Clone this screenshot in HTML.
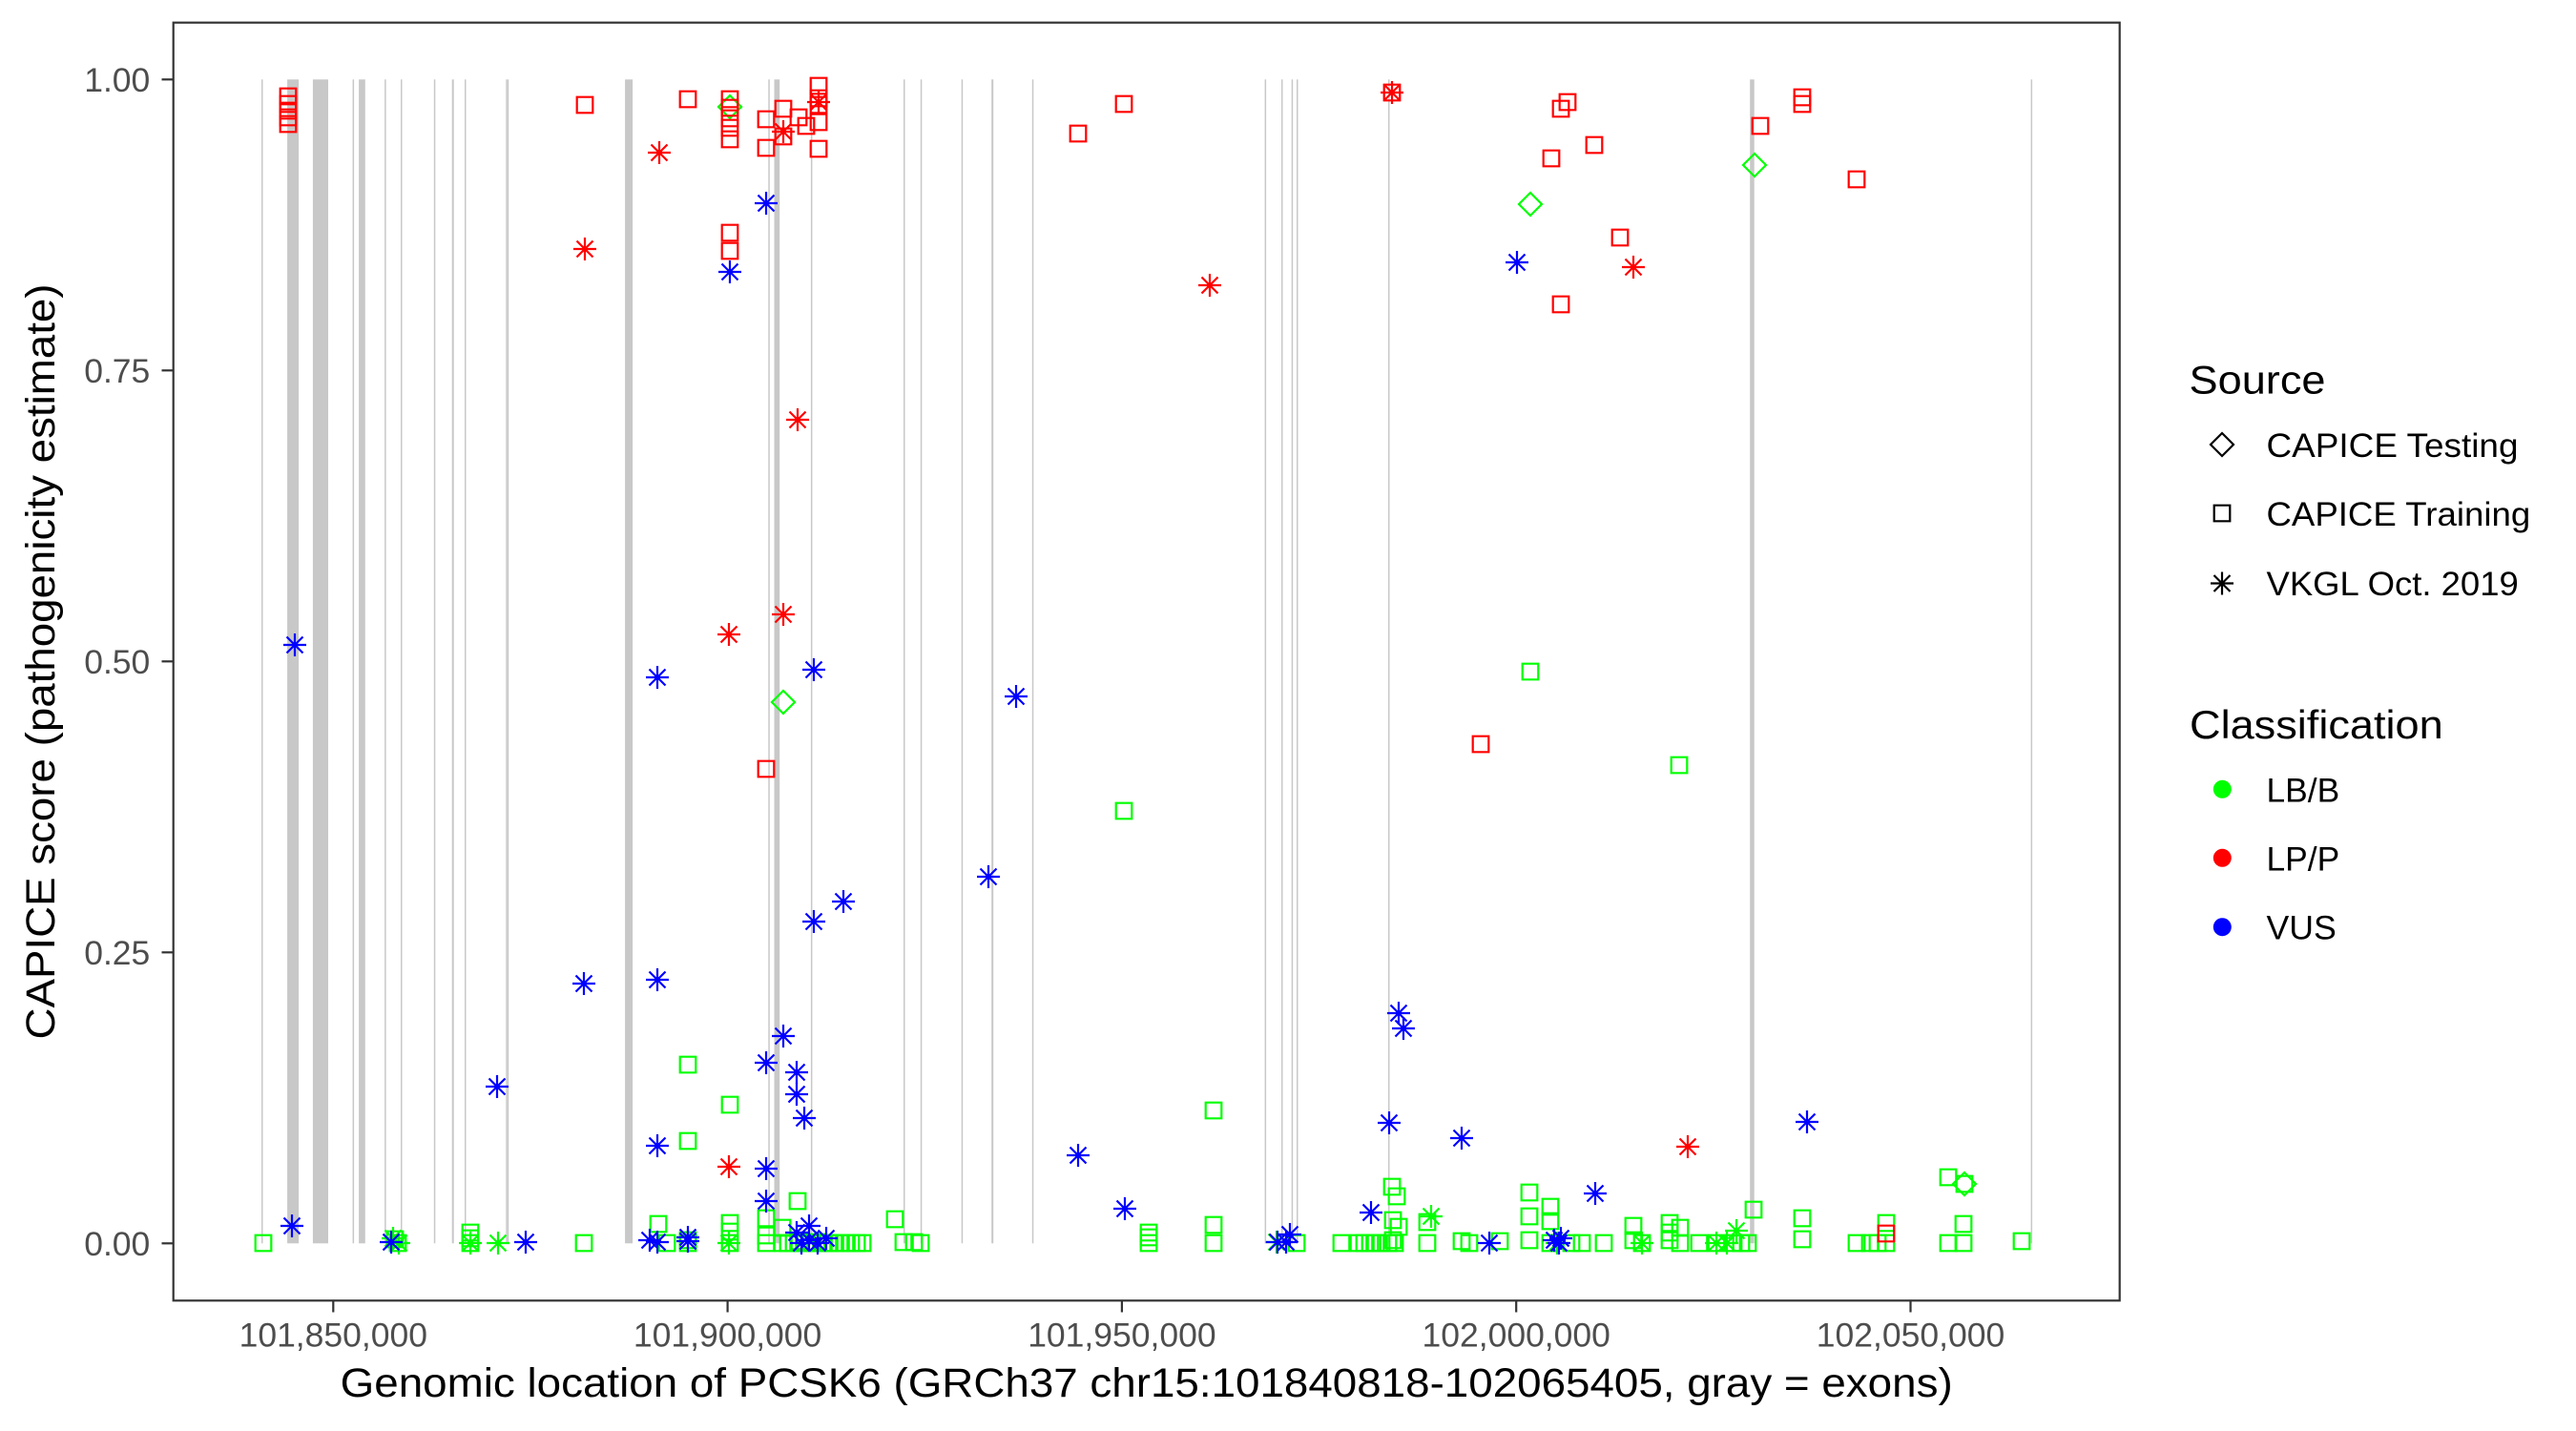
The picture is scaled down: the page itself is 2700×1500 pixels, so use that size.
<!DOCTYPE html>
<html>
<head>
<meta charset="utf-8">
<style>
html,body{margin:0;padding:0;background:#fff;}
svg{display:block;}
text{font-family:"Liberation Sans",Arial,sans-serif;}
</style>
</head>
<body>
<svg width="2700" height="1500" viewBox="0 0 2700 1500" xmlns="http://www.w3.org/2000/svg">
<defs>
<path id="sq" d="M-8.3,-8.3H8.3V8.3H-8.3Z"/>
<path id="di" d="M0,-12L12,0L0,12L-12,0Z"/>
<path id="st" d="M0,-12V12M-12,0H12M-8.5,-8.5L8.5,8.5M-8.5,8.5L8.5,-8.5"/>
</defs>
<rect x="0" y="0" width="2700" height="1500" fill="#fff"/>

<!-- exons -->
<g fill="#C8C8C8">
<rect x="274.0" y="83.3" width="1.5" height="1220"/>
<rect x="301.1" y="83.3" width="12" height="1220"/>
<rect x="327.9" y="83.3" width="16.1" height="1220"/>
<rect x="369.6" y="83.3" width="1.5" height="1220"/>
<rect x="376.1" y="83.3" width="6.7" height="1220"/>
<rect x="403.1" y="83.3" width="1.5" height="1220"/>
<rect x="420.0" y="83.3" width="1.5" height="1220"/>
<rect x="454.8" y="83.3" width="1.5" height="1220"/>
<rect x="473.7" y="83.3" width="2" height="1220"/>
<rect x="487.0" y="83.3" width="1.5" height="1220"/>
<rect x="530.3" y="83.3" width="1.4" height="1220"/>
<rect x="531.8" y="83.3" width="1.4" height="1220"/>
<rect x="655.1" y="83.3" width="8" height="1220"/>
<rect x="805.3" y="83.3" width="1.5" height="1220"/>
<rect x="811.5" y="83.3" width="5.7" height="1220"/>
<rect x="849.9" y="83.3" width="1.5" height="1220"/>
<rect x="947.0" y="83.3" width="1.5" height="1220"/>
<rect x="964.8" y="83.3" width="1.5" height="1220"/>
<rect x="1007.7" y="83.3" width="1.5" height="1220"/>
<rect x="1039.2" y="83.3" width="2" height="1220"/>
<rect x="1081.8" y="83.3" width="1.5" height="1220"/>
<rect x="1325.6" y="83.3" width="1.5" height="1220"/>
<rect x="1343.0" y="83.3" width="1.5" height="1220"/>
<rect x="1353.7" y="83.3" width="1.5" height="1220"/>
<rect x="1359.0" y="83.3" width="1.5" height="1220"/>
<rect x="1455.0" y="83.3" width="1.5" height="1220"/>
<rect x="1834.2" y="83.3" width="4.5" height="1220"/>
<rect x="2128.6" y="83.3" width="1.5" height="1220"/>
</g>

<!-- green points -->
<g stroke="#00FF00" fill="none" stroke-width="2.2">
<use href="#sq" x="276" y="1303"/>
<use href="#sq" x="417" y="1303"/><use href="#sq" x="414" y="1299"/>
<use href="#sq" x="493" y="1292"/><use href="#sq" x="493" y="1298"/><use href="#sq" x="493" y="1303"/>
<use href="#sq" x="612" y="1303"/>
<use href="#sq" x="690" y="1283"/><use href="#sq" x="699" y="1303"/>
<use href="#sq" x="721" y="1116"/><use href="#sq" x="721" y="1196"/><use href="#sq" x="721" y="1300"/><use href="#sq" x="721" y="1303"/>
<use href="#sq" x="765" y="1158"/><use href="#sq" x="765" y="1282"/><use href="#sq" x="765" y="1291"/><use href="#sq" x="765" y="1303"/>
<use href="#sq" x="803" y="1277"/><use href="#sq" x="803" y="1295"/><use href="#sq" x="803" y="1303"/>
<use href="#sq" x="820" y="1287"/><use href="#sq" x="820" y="1303"/>
<use href="#sq" x="836" y="1259"/>
<use href="#sq" x="826" y="1303"/><use href="#sq" x="832" y="1303"/><use href="#sq" x="838" y="1301"/><use href="#sq" x="844" y="1303"/><use href="#sq" x="850" y="1303"/><use href="#sq" x="856" y="1302"/><use href="#sq" x="862" y="1303"/><use href="#sq" x="868" y="1303"/><use href="#sq" x="874" y="1303"/><use href="#sq" x="880" y="1303"/><use href="#sq" x="886" y="1303"/><use href="#sq" x="892" y="1303"/><use href="#sq" x="898" y="1303"/><use href="#sq" x="904" y="1303"/>
<use href="#sq" x="938" y="1278"/><use href="#sq" x="947" y="1302"/><use href="#sq" x="958" y="1302"/><use href="#sq" x="965" y="1303"/>
<use href="#sq" x="1178" y="850"/>
<use href="#sq" x="1204" y="1292"/><use href="#sq" x="1204" y="1297"/><use href="#sq" x="1204" y="1303"/>
<use href="#sq" x="1272" y="1164"/><use href="#sq" x="1272" y="1284"/><use href="#sq" x="1272" y="1303"/>
<use href="#sq" x="1359" y="1303"/>
<use href="#sq" x="1406" y="1303"/>
<use href="#sq" x="1424" y="1303"/><use href="#sq" x="1430" y="1303"/><use href="#sq" x="1436" y="1303"/><use href="#sq" x="1442" y="1303"/><use href="#sq" x="1448" y="1303"/><use href="#sq" x="1455" y="1303"/><use href="#sq" x="1462" y="1303"/>
<use href="#sq" x="1459" y="1244"/><use href="#sq" x="1464" y="1254"/><use href="#sq" x="1460" y="1279"/><use href="#sq" x="1466" y="1286"/><use href="#sq" x="1460" y="1300"/>
<use href="#sq" x="1496" y="1281"/><use href="#sq" x="1496" y="1303"/>
<use href="#sq" x="1532" y="1301"/>
<use href="#sq" x="1540" y="1303"/><use href="#sq" x="1572" y="1301"/>
<use href="#sq" x="1604" y="704"/>
<use href="#sq" x="1603" y="1250"/><use href="#sq" x="1603" y="1275"/><use href="#sq" x="1603" y="1300"/>
<use href="#sq" x="1625" y="1265"/><use href="#sq" x="1625" y="1280"/><use href="#sq" x="1625" y="1303"/>
<use href="#sq" x="1647" y="1303"/><use href="#sq" x="1658" y="1303"/><use href="#sq" x="1681" y="1303"/>
<use href="#sq" x="1712" y="1285"/><use href="#sq" x="1712" y="1300"/><use href="#sq" x="1721" y="1303"/>
<use href="#sq" x="1760" y="802"/>
<use href="#sq" x="1750" y="1282"/><use href="#sq" x="1750" y="1292"/><use href="#sq" x="1750" y="1300"/><use href="#sq" x="1761" y="1287"/><use href="#sq" x="1761" y="1303"/>
<use href="#sq" x="1781" y="1303"/><use href="#sq" x="1799" y="1303"/><use href="#sq" x="1817" y="1303"/><use href="#sq" x="1825" y="1303"/><use href="#sq" x="1832" y="1303"/>
<use href="#sq" x="1838" y="1268"/>
<use href="#sq" x="1889" y="1277"/><use href="#sq" x="1889" y="1299"/>
<use href="#sq" x="1946" y="1303"/><use href="#sq" x="1960" y="1303"/><use href="#sq" x="1968" y="1303"/><use href="#sq" x="1977" y="1303"/><use href="#sq" x="1977" y="1282"/>
<use href="#sq" x="2042" y="1234"/>
<use href="#sq" x="2042" y="1303"/><use href="#sq" x="2058" y="1303"/><use href="#sq" x="2058" y="1283"/>
<use href="#sq" x="2059" y="1241"/>
<use href="#sq" x="2119" y="1301"/>

<use href="#st" x="412" y="1298"/><use href="#st" x="418" y="1303"/><use href="#st" x="493" y="1303"/><use href="#st" x="522" y="1303"/><use href="#st" x="764" y="1303"/><use href="#st" x="1338" y="1302"/><use href="#st" x="1500" y="1275"/><use href="#st" x="1632" y="1303"/><use href="#st" x="1721" y="1303"/><use href="#st" x="1799" y="1303"/><use href="#st" x="1810" y="1303"/><use href="#st" x="1820" y="1290"/>

<use href="#di" x="765" y="112"/><use href="#di" x="821" y="736"/><use href="#di" x="1604" y="214"/><use href="#di" x="1839" y="173"/><use href="#di" x="2059" y="1241"/>
</g>

<!-- blue points -->
<g stroke="#0000FF" fill="none" stroke-width="2.2">
<use href="#st" x="309" y="676"/><use href="#st" x="306" y="1285"/><use href="#st" x="803" y="213"/><use href="#st" x="765" y="285"/><use href="#st" x="689" y="710"/><use href="#st" x="853" y="702"/><use href="#st" x="884" y="945"/><use href="#st" x="853" y="966"/><use href="#st" x="612" y="1031"/><use href="#st" x="689" y="1027"/><use href="#st" x="821" y="1086"/><use href="#st" x="803" y="1114"/><use href="#st" x="835" y="1124"/><use href="#st" x="835" y="1147"/><use href="#st" x="843" y="1172"/><use href="#st" x="521" y="1139"/><use href="#st" x="689" y="1201"/><use href="#st" x="803" y="1225"/><use href="#st" x="803" y="1259"/><use href="#st" x="410" y="1302"/><use href="#st" x="551" y="1302"/><use href="#st" x="681" y="1300"/><use href="#st" x="689" y="1302"/><use href="#st" x="721" y="1297"/><use href="#st" x="721" y="1301"/><use href="#st" x="835" y="1292"/><use href="#st" x="848" y="1285"/><use href="#st" x="840" y="1303"/><use href="#st" x="866" y="1298"/><use href="#st" x="857" y="1303"/><use href="#st" x="848" y="1300"/><use href="#st" x="1065" y="730"/><use href="#st" x="1036" y="919"/><use href="#st" x="1130" y="1211"/><use href="#st" x="1179" y="1267"/><use href="#st" x="1466" y="1062"/><use href="#st" x="1471" y="1078"/><use href="#st" x="1456" y="1177"/><use href="#st" x="1437" y="1271"/><use href="#st" x="1532" y="1193"/><use href="#st" x="1339" y="1302"/><use href="#st" x="1348" y="1302"/><use href="#st" x="1352" y="1294"/><use href="#st" x="1561" y="1303"/><use href="#st" x="1590" y="275"/><use href="#st" x="1629" y="1300"/><use href="#st" x="1634" y="1303"/><use href="#st" x="1636" y="1298"/><use href="#st" x="1672" y="1251"/><use href="#st" x="1894" y="1176"/>
</g>

<!-- red points -->
<g stroke="#FF0000" fill="none" stroke-width="2.2">
<use href="#sq" x="302" y="101"/><use href="#sq" x="302" y="109"/><use href="#sq" x="302" y="116"/><use href="#sq" x="302" y="123"/><use href="#sq" x="302" y="130"/>
<use href="#sq" x="613" y="110"/><use href="#sq" x="721" y="104"/>
<use href="#sq" x="765" y="104"/><use href="#sq" x="765" y="113"/><use href="#sq" x="765" y="124"/><use href="#sq" x="765" y="134"/><use href="#sq" x="765" y="146"/>
<use href="#sq" x="765" y="244"/><use href="#sq" x="765" y="263"/>
<use href="#sq" x="803" y="125"/><use href="#sq" x="803" y="155"/>
<use href="#sq" x="821" y="114"/><use href="#sq" x="821" y="143"/>
<use href="#sq" x="837" y="123"/><use href="#sq" x="845" y="132"/>
<use href="#sq" x="858" y="90"/><use href="#sq" x="858" y="103"/><use href="#sq" x="858" y="110"/><use href="#sq" x="858" y="128"/><use href="#sq" x="858" y="156"/>
<use href="#sq" x="803" y="806"/>
<use href="#sq" x="1130" y="140"/><use href="#sq" x="1178" y="109"/><use href="#sq" x="1459" y="97"/><use href="#sq" x="1552" y="780"/><use href="#sq" x="1626" y="166"/><use href="#sq" x="1636" y="114"/><use href="#sq" x="1643" y="107"/><use href="#sq" x="1636" y="319"/><use href="#sq" x="1671" y="152"/><use href="#sq" x="1698" y="249"/><use href="#sq" x="1845" y="132"/><use href="#sq" x="1889" y="102"/><use href="#sq" x="1889" y="109"/><use href="#sq" x="1946" y="188"/><use href="#sq" x="1977" y="1293"/>
<use href="#st" x="691" y="160"/><use href="#st" x="613" y="261"/><use href="#st" x="821" y="138"/><use href="#st" x="858" y="107"/><use href="#st" x="836" y="440"/><use href="#st" x="821" y="644"/><use href="#st" x="764" y="665"/><use href="#st" x="764" y="1223"/><use href="#st" x="1268" y="299"/><use href="#st" x="1459" y="97"/><use href="#st" x="1712" y="280"/><use href="#st" x="1769" y="1202"/>
</g>

<!-- panel border -->
<rect x="181.7" y="23.7" width="2040" height="1339.6" fill="none" stroke="#333333" stroke-width="2.2"/>

<!-- ticks -->
<g stroke="#333333" stroke-width="2.2">
<line x1="169.5" y1="83.3" x2="181.7" y2="83.3"/>
<line x1="169.5" y1="388.3" x2="181.7" y2="388.3"/>
<line x1="169.5" y1="693.3" x2="181.7" y2="693.3"/>
<line x1="169.5" y1="998.3" x2="181.7" y2="998.3"/>
<line x1="169.5" y1="1303.3" x2="181.7" y2="1303.3"/>
<line x1="349.3" y1="1363.3" x2="349.3" y2="1375.5"/>
<line x1="762.6" y1="1363.3" x2="762.6" y2="1375.5"/>
<line x1="1175.9" y1="1363.3" x2="1175.9" y2="1375.5"/>
<line x1="1589.2" y1="1363.3" x2="1589.2" y2="1375.5"/>
<line x1="2002.5" y1="1363.3" x2="2002.5" y2="1375.5"/>
</g>

<!-- tick labels -->
<g fill="#4D4D4D" font-size="35.5">
<text x="157.3" y="96" text-anchor="end">1.00</text>
<text x="157.3" y="401" text-anchor="end">0.75</text>
<text x="157.3" y="706" text-anchor="end">0.50</text>
<text x="157.3" y="1011" text-anchor="end">0.25</text>
<text x="157.3" y="1316" text-anchor="end">0.00</text>
<text x="349.3" y="1411.5" text-anchor="middle">101,850,000</text>
<text x="762.6" y="1411.5" text-anchor="middle">101,900,000</text>
<text x="1175.9" y="1411.5" text-anchor="middle">101,950,000</text>
<text x="1589.2" y="1411.5" text-anchor="middle">102,000,000</text>
<text x="2002.5" y="1411.5" text-anchor="middle">102,050,000</text>
</g>

<!-- axis titles -->
<text x="356.7" y="1464" font-size="43" fill="#000" textLength="1690" lengthAdjust="spacingAndGlyphs">Genomic location of PCSK6 (GRCh37 chr15:101840818-102065405, gray = exons)</text>
<text transform="translate(57,1089.5) rotate(-90)" x="0" y="0" font-size="43" fill="#000" textLength="792" lengthAdjust="spacingAndGlyphs">CAPICE score (pathogenicity estimate)</text>

<!-- legend: Source -->
<text x="2294.5" y="412.6" font-size="42" fill="#000" textLength="143" lengthAdjust="spacingAndGlyphs">Source</text>
<g stroke="#000" fill="none" stroke-width="2.2">
<use href="#di" x="2329" y="466"/>
<use href="#sq" x="2329" y="538"/>
<use href="#st" x="2329" y="611.5"/>
</g>
<g font-size="35" fill="#000">
<text x="2375.5" y="479" textLength="264" lengthAdjust="spacingAndGlyphs">CAPICE Testing</text>
<text x="2375.5" y="551" textLength="276.7" lengthAdjust="spacingAndGlyphs">CAPICE Training</text>
<text x="2375.5" y="624" textLength="264.3" lengthAdjust="spacingAndGlyphs">VKGL Oct. 2019</text>
</g>

<!-- legend: Classification -->
<text x="2295" y="774" font-size="42" fill="#000" textLength="265.7" lengthAdjust="spacingAndGlyphs">Classification</text>
<circle cx="2329.3" cy="827.3" r="9.5" fill="#00FF00"/>
<circle cx="2329.3" cy="899.3" r="9.5" fill="#FF0000"/>
<circle cx="2329.3" cy="971.7" r="9.5" fill="#0000FF"/>
<g font-size="35" fill="#000">
<text x="2375.5" y="840.7" textLength="76.7" lengthAdjust="spacingAndGlyphs">LB/B</text>
<text x="2375.5" y="912.7" textLength="76.7" lengthAdjust="spacingAndGlyphs">LP/P</text>
<text x="2375.5" y="984.5" textLength="73.3" lengthAdjust="spacingAndGlyphs">VUS</text>
</g>
</svg>
</body>
</html>
